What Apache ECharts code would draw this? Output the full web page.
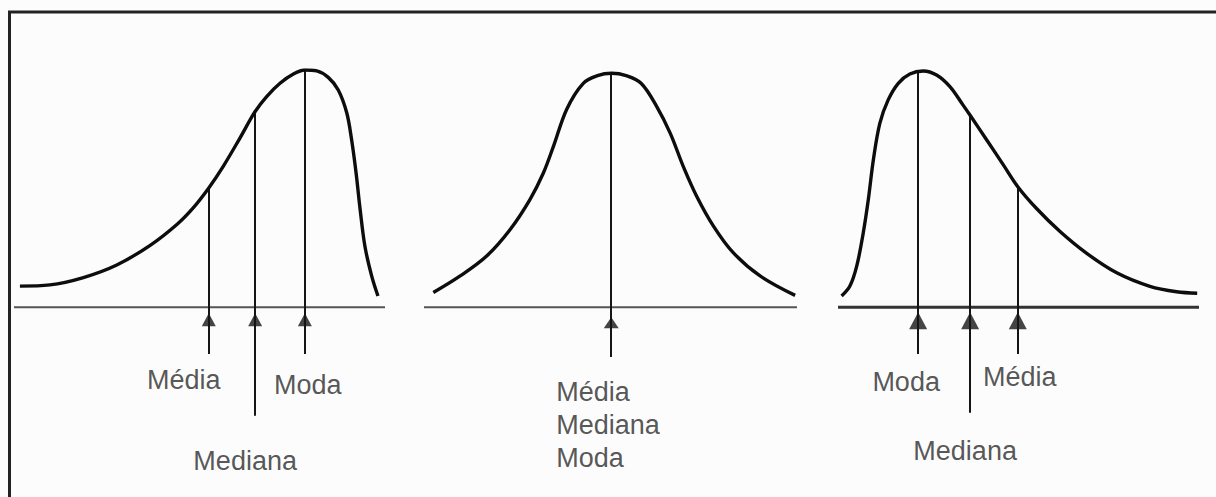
<!DOCTYPE html>
<html>
<head>
<meta charset="utf-8">
<script src="https://cdn.jsdelivr.net/npm/echarts@6/dist/echarts.min.js"></script>
<style>
  html, body { margin: 0; padding: 0; background: #fcfcfc; }
  #chart { width: 1216px; height: 497px; }
</style>
</head>
<body>
<div id="chart"></div>
<script>
// ---- Data ----
// x: position along each panel's horizontal axis (0-100), y: relative frequency (0-100)
const negSkewX = [1.6, 9.7, 18.7, 27.7, 36.7, 43.9, 48.3, 52.5, 56.4, 60.9, 65.0, 68.1, 71.7, 75.3, 78.4, 81.6, 84.7, 87.4, 89.7, 91.0, 92.2, 93.3, 94.6, 96.4, 98.1];
const negSkewY = [8.9, 9.4, 12.5, 17.8, 26.1, 34.9, 41.9, 50.3, 59.4, 71.3, 82.5, 88.8, 94.4, 98.3, 100, 99.6, 96.9, 91.6, 81.9, 70.6, 56.7, 41.2, 25.6, 13.2, 4.7];

const symX = [2.5, 9.7, 16.8, 23.1, 28.4, 32.0, 34.7, 38.3, 42.7, 46.5, 50.3, 54.2, 58.2, 62.4, 66.0, 69.5, 73.1, 77.6, 82.9, 90.1, 99.5];
const symY = [6.2, 13.2, 21.6, 32.8, 45.4, 56.6, 67.8, 83.6, 94.4, 97.6, 98.6, 97.6, 94.4, 84.6, 73.4, 59.4, 46.8, 34.2, 23.0, 13.2, 5.0];

const posSkewX = [1.0, 3.3, 5.2, 7.0, 8.4, 9.8, 11.6, 13.9, 16.7, 19.9, 23.6, 27.3, 31.0, 34.6, 36.6, 41.2, 45.8, 49.8, 55.0, 61.5, 68.9, 77.2, 86.4, 93.8, 99.5];
const posSkewY = [4.7, 8.9, 17.4, 31.4, 45.4, 62.2, 77.6, 87.4, 94.4, 98.3, 99.6, 97.9, 93.0, 85.3, 80.9, 70.5, 60.0, 50.8, 41.6, 31.9, 22.7, 14.5, 8.8, 6.5, 5.9];

// measures: Média, Mediana, Moda
const measureNames = ['Média', 'Mediana', 'Moda'];
const negSkewMeasureX = [52.5, 65.0, 78.4];
const negSkewMeasureTop = [50.3, 82.5, 100];
const symMeasureX = [50.2];
const symMeasureTop = [98.6];
const posSkewMeasureX = [49.8, 36.6, 22.2];
const posSkewMeasureTop = [50.8, 80.9, 99.5];

// ---- Styling / layout helpers ----
const FONT = '"Liberation Sans", Arial, Helvetica, sans-serif';
const TEXT_COLOR = '#2b2b2b';
const Y_MIN = -80, Y_MAX = 100;

function zip(a, b) { return a.map((v, i) => [v, b[i]]); }

function panelSeries(g, cx, cy, mx, mtop, cfg) {
  const s = [];
  s.push({
    type: 'line', xAxisIndex: g, yAxisIndex: g, data: zip(cx, cy),
    smooth: 0.35, showSymbol: false, silent: true,
    lineStyle: { color: '#0d0d0d', width: 3.4 }, z: 5
  });
  s.push({
    type: 'line', xAxisIndex: g, yAxisIndex: g, data: [[0, 0], [100, 0]],
    showSymbol: false, silent: true,
    lineStyle: { color: cfg.baseColor, width: cfg.baseWidth }, z: 3
  });
  s.push({
    type: 'lines', coordinateSystem: 'cartesian2d', xAxisIndex: g, yAxisIndex: g,
    silent: true, z: 4,
    lineStyle: { color: '#151515', width: 2, opacity: 1 },
    data: mx.map((x, i) => ({ coords: [[x, mtop[i]], [x, cfg.bottoms[i]]] }))
  });
  s.push({
    type: 'scatter', xAxisIndex: g, yAxisIndex: g, silent: true, z: 6,
    symbol: 'triangle', symbolSize: cfg.headSize,
    itemStyle: { color: '#151515' },
    data: mx.map(x => [x, cfg.headY])
  });
  s.push({
    type: 'scatter', xAxisIndex: g, yAxisIndex: g, silent: true, z: 7,
    symbolSize: 0,
    data: mx.map((x, i) => ({
      name: cfg.names[i],
      value: [x, cfg.bottoms[i]],
      label: cfg.labels[i]
    })),
    label: {
      show: true, formatter: p => p.name,
      fontFamily: FONT, fontSize: 27, color: TEXT_COLOR
    }
  });
  return s;
}

const series = [].concat(
  panelSeries(0, negSkewX, negSkewY, negSkewMeasureX, negSkewMeasureTop, {
    baseColor: '#555', baseWidth: 2, headY: -5.3, headSize: [14, 13],
    bottoms: [-19.7, -45.8, -19.7],
    names: measureNames,
    labels: [
      { position: 'inside', offset: [-25, 26] },
      { position: 'inside', offset: [-10, 45] },
      { position: 'inside', offset: [3, 31] }
    ]
  }),
  panelSeries(1, symX, symY, symMeasureX, symMeasureTop, {
    baseColor: '#555', baseWidth: 2, headY: -6.5, headSize: [15, 11],
    bottoms: [-21],
    names: [measureNames.join('\n')],
    labels: [
      { position: [-55, 68], align: 'left', verticalAlign: 'middle', lineHeight: 33 }
    ]
  }),
  panelSeries(2, posSkewX, posSkewY, posSkewMeasureX, posSkewMeasureTop, {
    baseColor: '#333', baseWidth: 3, headY: -5.7, headSize: [18, 17],
    bottoms: [-19.7, -44.5, -19.7],
    names: measureNames,
    labels: [
      { position: 'inside', offset: [2, 23] },
      { position: 'inside', offset: [-5, 38] },
      { position: 'inside', offset: [-12, 28] }
    ]
  })
);

const grids = [
  { left: 14, width: 371, top: 70, height: 428.4 },
  { left: 424, width: 373, top: 70, height: 428.4 },
  { left: 838, width: 361, top: 70, height: 428.4 }
];

const chart = echarts.init(document.getElementById('chart'), null, { renderer: 'svg' });
chart.setOption({
  backgroundColor: '#fcfcfc',
  animation: false,
  grid: grids.map(g => Object.assign({ containLabel: false }, g)),
  xAxis: grids.map((g, i) => ({ type: 'value', gridIndex: i, min: 0, max: 100, show: false })),
  yAxis: grids.map((g, i) => ({ type: 'value', gridIndex: i, min: Y_MIN, max: Y_MAX, show: false })),
  graphic: [{
    type: 'polyline', silent: true,
    shape: { points: [[9.5, 497], [9.5, 12], [1216, 12]] },
    style: { stroke: '#222', lineWidth: 3, fill: null }
  }],
  series: series
});
</script>
</body>
</html>
